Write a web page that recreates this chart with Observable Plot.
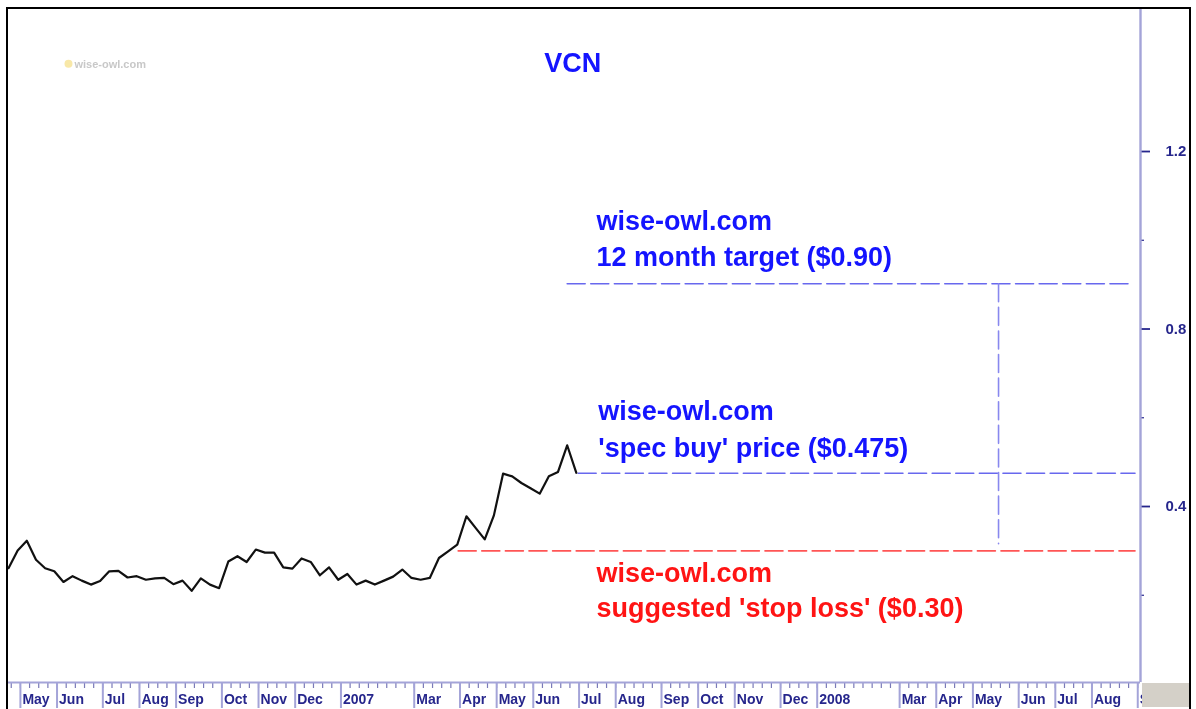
<!DOCTYPE html>
<html><head><meta charset="utf-8">
<script src="https://cdn.jsdelivr.net/npm/d3@7"></script>
<script src="https://cdn.jsdelivr.net/npm/@observablehq/plot@0.6"></script>
<style>
html,body{margin:0;padding:0;background:#fff;overflow:hidden}
#wrap{position:relative;width:1196px;height:709px;overflow:hidden;filter:blur(0.55px)}
#frame{position:absolute;left:6px;top:7px;width:1181px;height:702px;border:2px solid #000;border-bottom:none;box-sizing:content-box;pointer-events:none}
#corner{position:absolute;left:1142px;top:683px;width:47px;height:24px;background:#d4d0c8}
svg{position:absolute;left:0;top:0;font-family:"Liberation Sans",Arial,sans-serif}
</style></head><body><div id="wrap"><div id="corner"></div><div id="frame"></div></div>
<script>
const startDate = Date.UTC(2006, 3, 21);
const weekToDate = w => new Date(startDate + w * 7 * 864e5);

// weekly closing price, VCN
const prices = [0.261,0.301,0.323,0.280,0.261,0.254,0.230,0.243,0.233,0.224,0.232,0.254,0.255,0.240,0.243,0.235,0.238,0.239,0.225,0.233,0.210,0.238,0.224,0.216,0.276,0.288,0.275,0.303,0.296,0.296,0.263,0.260,0.283,0.275,0.245,0.263,0.235,0.248,0.224,0.233,0.224,0.233,0.242,0.258,0.239,0.235,0.239,0.284,0.299,0.314,0.378,0.352,0.326,0.380,0.474,0.468,0.453,0.441,0.429,0.468,0.478,0.538,0.476];

// month separators on the time axis (week position and label)
const monthWeeks = [1.3,5.3,10.3,14.3,18.3,23.3,27.3,31.3,36.3,44.3,49.3,53.3,57.3,62.3,66.3,71.3,75.3,79.3,84.3,88.3,97.3,101.3,105.3,110.3,114.3,118.3,123.3];
const monthLabels = ["May","Jun","Jul","Aug","Sep","Oct","Nov","Dec","2007","Mar","Apr","May","Jun","Jul","Aug","Sep","Oct","Nov","Dec","2008","Mar","Apr","May","Jun","Jul","Aug","Sep"];
const weekTicks = d3.range(-1, 124).map(k => k + 0.3).filter(k => k > 0);

// price axis
const majorTicks = [0.4, 0.8, 1.2];
const minorTicks = [0.2, 0.6, 1.0];

// annotation levels
const targetLevel = {value: 0.902, from: 61.0, to: 122.5};
const buyLevel = {value: 0.475, from: 62.2, to: 123.0};
const stopLevel = {value: 0.30, from: 49.1, to: 123.0};
const rangeLine = {week: 108.1, top: 0.902, bottom: 0.316};

const blueTexts = [
  {w: 64.2, v: 1.042, t: "wise-owl.com"},
  {w: 64.2, v: 0.961, t: "12 month target ($0.90)"},
  {w: 64.4, v: 0.614, t: "wise-owl.com"},
  {w: 64.4, v: 0.531, t: "'spec buy' price ($0.475)"}
];
const redTexts = [
  {w: 64.2, v: 0.249, t: "wise-owl.com"},
  {w: 64.2, v: 0.170, t: "suggested 'stop loss' ($0.30)"}
];

const yMin = 0.0034, yMax = 1.5223;
const xEnd = weekToDate(123.6);
const navy = "#26268c", axisBlue = "#a4a4d8", dash = "18,5.6";
const levelLine = (l, stroke) => Plot.line([[l.from, l.value], [l.to, l.value]], {
  x: d => weekToDate(d[0]), y: d => d[1], stroke, strokeWidth: 1.6, strokeDasharray: dash
});

const chart = Plot.plot({
  width: 1196, height: 709,
  marginLeft: 8, marginRight: 56, marginTop: 8, marginBottom: 27,
  style: {background: "transparent", overflow: "visible"},
  x: {type: "utc", domain: [weekToDate(0), xEnd]},
  y: {domain: [yMin, yMax]},
  marks: [
    // time axis
    Plot.axisX(weekTicks.map(weekToDate), {tickSize: 6, text: null, stroke: "#7a7ab8", strokeWidth: 1.2, label: null}),
    Plot.axisX(monthWeeks.map(weekToDate), {tickSize: 26, text: null, stroke: axisBlue, strokeWidth: 2, label: null}),
    Plot.text(monthLabels, {
      x: (d, i) => weekToDate(monthWeeks[i]), y: yMin, text: d => d,
      textAnchor: "start", dx: 2, dy: 17, fill: navy, fontSize: 14, fontWeight: 600
    }),
    // price axis
    Plot.axisY(minorTicks, {anchor: "right", tickSize: 3, text: null, stroke: navy, strokeWidth: 1.2, label: null}),
    Plot.axisY(majorTicks, {anchor: "right", tickSize: 9, tickPadding: 16, tickFormat: d3.format(".1f"), color: navy, fill: navy, stroke: navy, strokeWidth: 1.8, fontSize: 15, fontWeight: 600, label: null}),
    Plot.ruleY([yMin], {stroke: axisBlue, strokeWidth: 2}),
    Plot.ruleX([xEnd], {stroke: axisBlue, strokeWidth: 2.4}),
    // levels
    levelLine(targetLevel, "#6868ee"),
    levelLine(buyLevel, "#6868ee"),
    levelLine(stopLevel, "#ff5555"),
    Plot.line([[rangeLine.week, rangeLine.top], [rangeLine.week, rangeLine.bottom]], {
      x: d => weekToDate(d[0]), y: d => d[1], stroke: "#8888ee", strokeWidth: 1.6, strokeDasharray: dash
    }),
    // price
    Plot.line(prices, {x: (d, i) => weekToDate(i), y: d => d, stroke: "#111", strokeWidth: 2.2}),
    // texts
    Plot.text(blueTexts, {x: d => weekToDate(d.w), y: "v", text: "t", textAnchor: "start", fill: "#1414ff", fontSize: 27, fontWeight: 600}),
    Plot.text(redTexts, {x: d => weekToDate(d.w), y: "v", text: "t", textAnchor: "start", fill: "#ff1414", fontSize: 27, fontWeight: 600}),
    Plot.text(["VCN"], {x: weekToDate(61.6), y: 1.398, text: d => d, fill: "#1414ff", fontSize: 27, fontWeight: 700}),
    Plot.text(["wise-owl.com"], {x: weekToDate(7.2), y: 1.396, text: d => d, textAnchor: "start", fill: "#c8c8c8", fontSize: 11, fontWeight: 700}),
    Plot.dot(["owl"], {x: weekToDate(6.55), y: 1.398, r: 4, fill: "#f8e8a8"})
  ]
});
document.getElementById("wrap").prepend(chart);
</script></body></html>
